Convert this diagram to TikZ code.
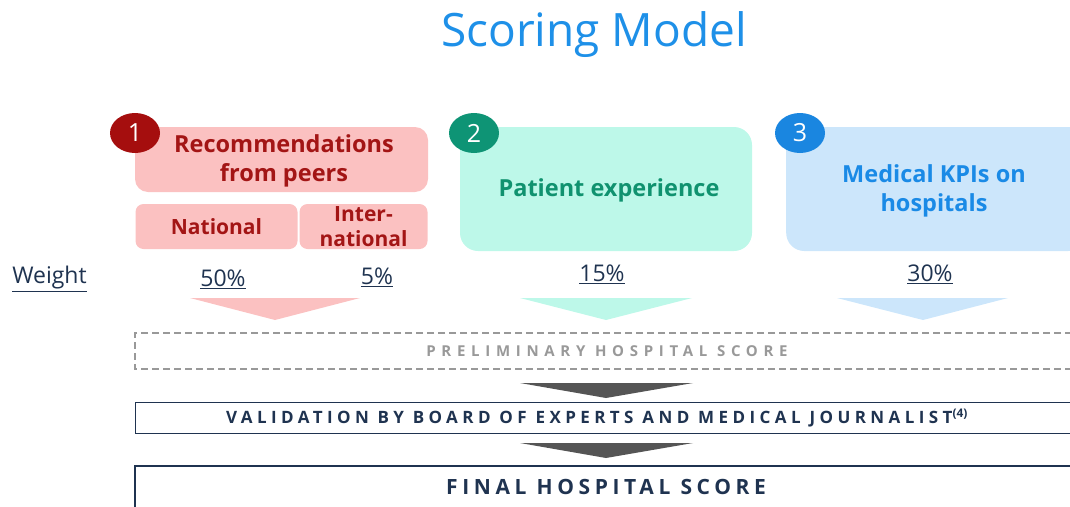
\documentclass[tikz,border=0pt]{standalone}
\usepackage{fontspec}
\setmainfont{Open Sans}
\newfontfamily\spacedA[LetterSpace=38]{Open Sans}
\newfontfamily\spacedB[LetterSpace=26]{Open Sans}
\newfontfamily\spacedC[LetterSpace=22]{Open Sans}
\usetikzlibrary{shapes.geometric}
\definecolor{titleblue}{HTML}{1E90E8}
\definecolor{redfill}{HTML}{FBC1C1}
\definecolor{redtext}{HTML}{A31515}
\definecolor{reddot}{HTML}{A50E0E}
\definecolor{tealfill}{HTML}{BDF8E9}
\definecolor{tealtext}{HTML}{10926F}
\definecolor{tealdot}{HTML}{0E9475}
\definecolor{bluefill}{HTML}{CCE6FB}
\definecolor{bluetext}{HTML}{1A8AE6}
\definecolor{bluedot}{HTML}{1A86E0}
\definecolor{navy}{HTML}{1F3350}
\definecolor{prelgray}{HTML}{999999}
\definecolor{darkarrow}{HTML}{555555}
\tikzset{
  catbox/.style={rounded corners=18pt, inner sep=0pt},
  cattxt/.style={inner sep=0pt, align=center, font=\fontsize{23.5}{29}\selectfont\bfseries},
  subbox/.style={rounded corners=8pt, inner sep=0pt, align=center, fill=redfill, text=redtext, font=\fontsize{21}{25}\selectfont\bfseries},
  numdot/.style={ellipse, inner sep=0pt, minimum width=50pt, minimum height=40pt, text=white, font=\fontsize{25}{28}\selectfont},
  weighttxt/.style={text=navy, inner sep=0pt, font=\fontsize{23}{26}\selectfont},
}
\begin{document}
\begin{tikzpicture}[x=1pt,y=-1pt]
\useasboundingbox (0,0) rectangle (1070,506);
% title
\node[text=titleblue, font=\fontsize{46}{52}\selectfont] (title) at (594,35) {Scoring Model};
% category boxes
\node[catbox, rounded corners=13pt, fill=redfill, minimum width=293pt, minimum height=65pt] (rec) at (281.5,159.5) {};
\node[cattxt, text=redtext] (rect) at (284,161) {Recommendations\\from peers};
\node[subbox, minimum width=162pt, minimum height=45pt] (nat) at (216.5,226.5) {National};
\node[subbox, minimum width=128pt, minimum height=45pt] (int) at (363.5,226.5) {Inter-\\national};
\node[catbox, fill=tealfill, minimum width=292pt, minimum height=124pt] (pat) at (606,189) {};
\node[cattxt, text=tealtext] (patt) at (609,190) {Patient experience};
\node[catbox, fill=bluefill, minimum width=300pt, minimum height=124pt, anchor=west] (kpi) at (786,189) {};
\node[cattxt, text=bluetext] (kpit) at (934,191) {Medical KPIs on\\hospitals};
% number dots
\node[numdot, fill=reddot] (n1) at (135,133) {1};
\node[numdot, fill=tealdot] (n2) at (474,133) {2};
\node[numdot, fill=bluedot] (n3) at (800,133) {3};
% weights
\node[weighttxt] (w) at (49.5,279) {\underline{Weight}};
\node[weighttxt] (w50) at (223,279) {\underline{50\%}};
\node[weighttxt] (w5) at (377,277) {\underline{5\%}};
\node[weighttxt] (w15) at (602,274) {\underline{15\%}};
\node[weighttxt] (w30) at (930,274) {\underline{30\%}};
% arrows down
\fill[redfill] (190,298) -- (360,298) -- (275,320) -- cycle;
\fill[tealfill] (520,298) -- (692,298) -- (606,320) -- cycle;
\fill[bluefill] (837,298) -- (1008,298) -- (923,320) -- cycle;
% preliminary score
\draw[prelgray, line width=2pt, dash pattern=on 7pt off 4pt] (1072,333) -- (135,333) -- (135,369) -- (1072,369);
\node[text=prelgray, font=\fontsize{15}{17}\selectfont\spacedA\bfseries] (prel) at (607,351) {PRELIMINARY HOSPITAL SCORE};
\fill[darkarrow] (520,383) -- (693,383) -- (606,398) -- cycle;
% validation
\draw[navy, line width=1pt] (1072,402.5) -- (135.5,402.5) -- (135.5,433) -- (1072,433);
\node[text=navy, font=\fontsize{17}{19}\selectfont\bfseries] (val) at (597,418) {{\spacedB\bfseries VALIDATION BY BOARD OF EXPERTS AND MEDICAL JOURNALIST}\textsuperscript{(4)}};
\fill[darkarrow] (520,443) -- (693,443) -- (606,458) -- cycle;
% final
\draw[navy, line width=2pt] (135,508) -- (135,466) -- (1072,466);
\node[text=navy, font=\fontsize{21}{23}\selectfont\spacedC\bfseries] (fin) at (606,487) {FINAL HOSPITAL SCORE};
\end{tikzpicture}
\end{document}
